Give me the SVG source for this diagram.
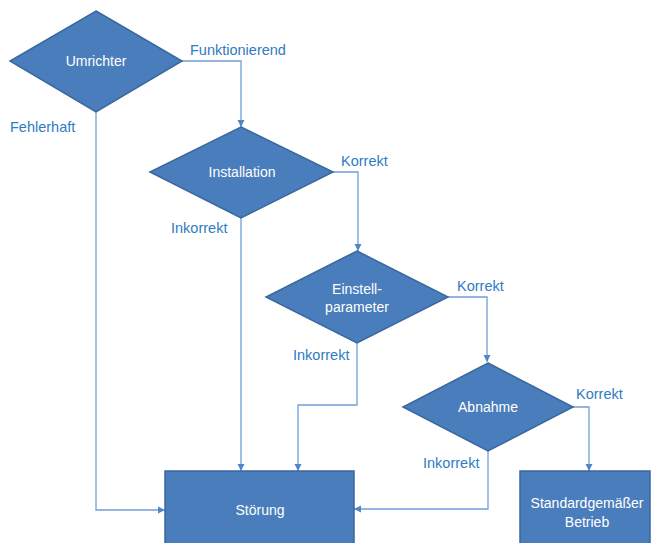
<svg xmlns="http://www.w3.org/2000/svg" width="655" height="543" viewBox="0 0 655 543">
<defs>
<marker id="arr" markerWidth="8" markerHeight="8" refX="7" refY="4" orient="auto" markerUnits="userSpaceOnUse">
<path d="M0,0.5 L7,4 L0,7.5 Z" fill="#4f86c6"/>
</marker>
<style>
.shape{fill:#4a7dbb;stroke:#3a679e;stroke-width:1.5}
.nt{font-family:"Liberation Sans",Arial,sans-serif;font-size:14px;fill:#ffffff;text-anchor:middle;dominant-baseline:central}
.lbl{font-family:"Liberation Sans",Arial,sans-serif;font-size:14.5px;fill:#2f7cc2;dominant-baseline:central}
.con{fill:none;stroke:#6f9fd6;stroke-width:1.3;marker-end:url(#arr)}
</style>
</defs>
<rect width="655" height="543" fill="#ffffff"/>
<g id="connectors">
<polyline class="con" points="182,61 241,61 241,127"/>
<polyline class="con" points="96,112 96,510 165,510"/>
<polyline class="con" points="333,172 358,172 358,251"/>
<polyline class="con" points="241,218 241,471"/>
<polyline class="con" points="448,297 487,297 487,362"/>
<polyline class="con" points="357,343 357,405 298,405 298,471"/>
<polyline class="con" points="573,407 589,407 589,471"/>
<polyline class="con" points="488,451 488,509 354,509"/>
</g>
<g id="labels">
<text class="lbl" x="190" y="50">Funktionierend</text>
<text class="lbl" x="10" y="127">Fehlerhaft</text>
<text class="lbl" x="341" y="161">Korrekt</text>
<text class="lbl" x="171" y="228">Inkorrekt</text>
<text class="lbl" x="457" y="286">Korrekt</text>
<text class="lbl" x="293" y="355">Inkorrekt</text>
<text class="lbl" x="576" y="394">Korrekt</text>
<text class="lbl" x="423" y="463">Inkorrekt</text>
</g>
<g id="umrichter">
<polygon class="shape" points="96,11 182,61 96,112 10,61"/>
<text class="nt" x="96" y="61">Umrichter</text>
</g>
<g id="installation">
<polygon class="shape" points="241,127 333,172 241,218 150,172"/>
<text class="nt" x="242" y="172">Installation</text>
</g>
<g id="einstellparameter">
<polygon class="shape" points="357,251 448,297 357,343 266,297"/>
<text class="nt" x="357" y="289">Einstell-</text>
<text class="nt" x="357" y="307">parameter</text>
</g>
<g id="abnahme">
<polygon class="shape" points="488,363 573,407 488,451 403,407"/>
<text class="nt" x="488" y="407">Abnahme</text>
</g>
<g id="stoerung">
<rect class="shape" x="165" y="471" width="189" height="80"/>
<text class="nt" x="260" y="510">Störung</text>
</g>
<g id="standardbetrieb">
<rect class="shape" x="520" y="471" width="130" height="80"/>
<text class="nt" x="587" y="503">Standardgemäßer</text>
<text class="nt" x="587" y="522">Betrieb</text>
</g>
</svg>
